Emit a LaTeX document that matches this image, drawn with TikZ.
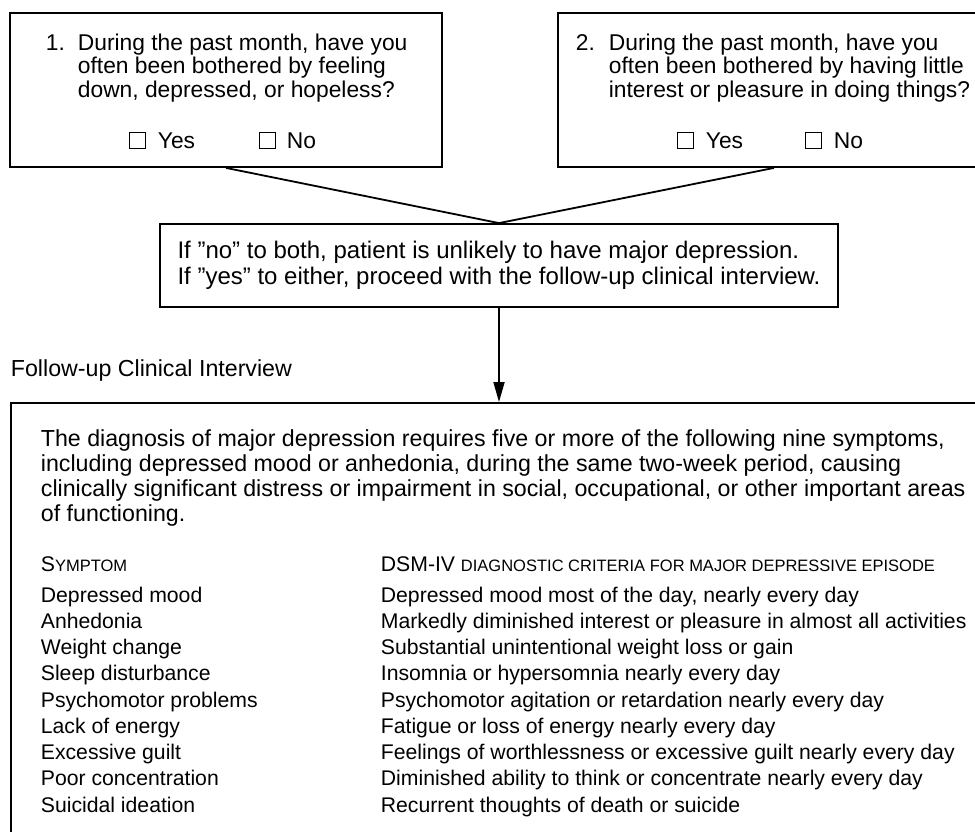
\documentclass[tikz,border=0pt]{standalone}
\usepackage{fontspec}
\setmainfont{Liberation Sans}
\usetikzlibrary{arrows.meta,positioning}

\begin{document}
\begin{tikzpicture}[x=1pt,y=-1pt,line width=1.8pt,
   box/.style={draw,rectangle,inner sep=0pt},
   chk/.style={draw,rectangle,minimum size=16pt,inner sep=0pt,line width=0.9pt},
   qtext/.style={font=\fontsize{22.8}{23.3}\selectfont,inner sep=0pt,anchor=base west},
   btext/.style={font=\fontsize{23.2}{25}\selectfont,inner sep=0pt,anchor=base west},
   rtext/.style={font=\fontsize{21.2}{26.25}\selectfont,inner sep=0pt,anchor=base west}] 
   \useasboundingbox (0,0) rectangle (975,831);

   % screening questions
   \node[box,minimum width=432pt,minimum height=154pt] (q1) at (226,90) {};
   \node[qtext] (n1) at (45,50) {1.};
   \node[qtext] (t1) at (77,50) {\begin{tabular}[t]{@{}l@{}}During the past month, have you\\often been bothered by feeling\\down, depressed, or hopeless?\end{tabular}};
   \node[chk] (y1) at (137,140) {};
   \node[qtext] (y1l) at (157,148) {Yes};
   \node[chk] (no1) at (267,140) {};
   \node[qtext] (no1l) at (286,148) {No};

   \node[box,minimum width=432pt,minimum height=154pt] (q2) at (774,90) {};
   \node[qtext] (n2) at (575,50) {2.};
   \node[qtext] (t2) at (608,50) {\begin{tabular}[t]{@{}l@{}}During the past month, have you\\often been bothered by having little\\interest or pleasure in doing things?\end{tabular}};
   \node[chk] (y2) at (685,140) {};
   \node[qtext] (y2l) at (705,148) {Yes};
   \node[chk] (no2) at (813,140) {};
   \node[qtext] (no2l) at (833,148) {No};

   \node[box,minimum width=678pt,minimum height=83pt,align=left,font=\fontsize{24}{25.5}\selectfont] (mid) at (499,265.5) {If ”no” to both, patient is unlikely to have major depression.\\If ”yes” to either, proceed with the follow-up clinical interview.};

   \path[-] (q1.south) edge (mid.north);
   \path[-] (q2.south) edge (mid.north);

   % follow-up interview
   \node[btext] (fu) at (10,376) {Follow-up Clinical Interview};
   \node[box,anchor=north west,minimum width=1000pt,minimum height=500pt] (big) at (10,402) {};
   \draw[-{Triangle[length=20pt,width=11pt]}] (mid.south) -- (mid.south |- big.north);

   \node[btext] (para) at (40,446) {\begin{tabular}[t]{@{}l@{}}The diagnosis of major depression requires five or more of the following nine symptoms,\\including depressed mood or anhedonia, during the same two-week period, causing\\clinically significant distress or impairment in social, occupational, or other important areas\\of functioning.\end{tabular}};

   \node[rtext] (hd) at (40,571) {\begin{tabular}[t]{@{}p{340pt}@{}l@{}}S{\fontsize{16.5}{18}\selectfont YMPTOM} & DSM-IV {\fontsize{16.5}{18}\selectfont DIAGNOSTIC CRITERIA FOR MAJOR DEPRESSIVE EPISODE}\end{tabular}};
   \node[rtext] (tab) at (40,602) {\begin{tabular}[t]{@{}p{340pt}@{}l@{}}
      Depressed mood & Depressed mood most of the day, nearly every day\\
      Anhedonia & Markedly diminished interest or pleasure in almost all activities\\
      Weight change & Substantial unintentional weight loss or gain\\
      Sleep disturbance & Insomnia or hypersomnia nearly every day\\
      Psychomotor problems & Psychomotor agitation or retardation nearly every day\\
      Lack of energy & Fatigue or loss of energy nearly every day\\
      Excessive guilt & Feelings of worthlessness or excessive guilt nearly every day\\
      Poor concentration & Diminished ability to think or concentrate nearly every day\\
      Suicidal ideation & Recurrent thoughts of death or suicide
   \end{tabular}};
\end{tikzpicture}
\end{document}
